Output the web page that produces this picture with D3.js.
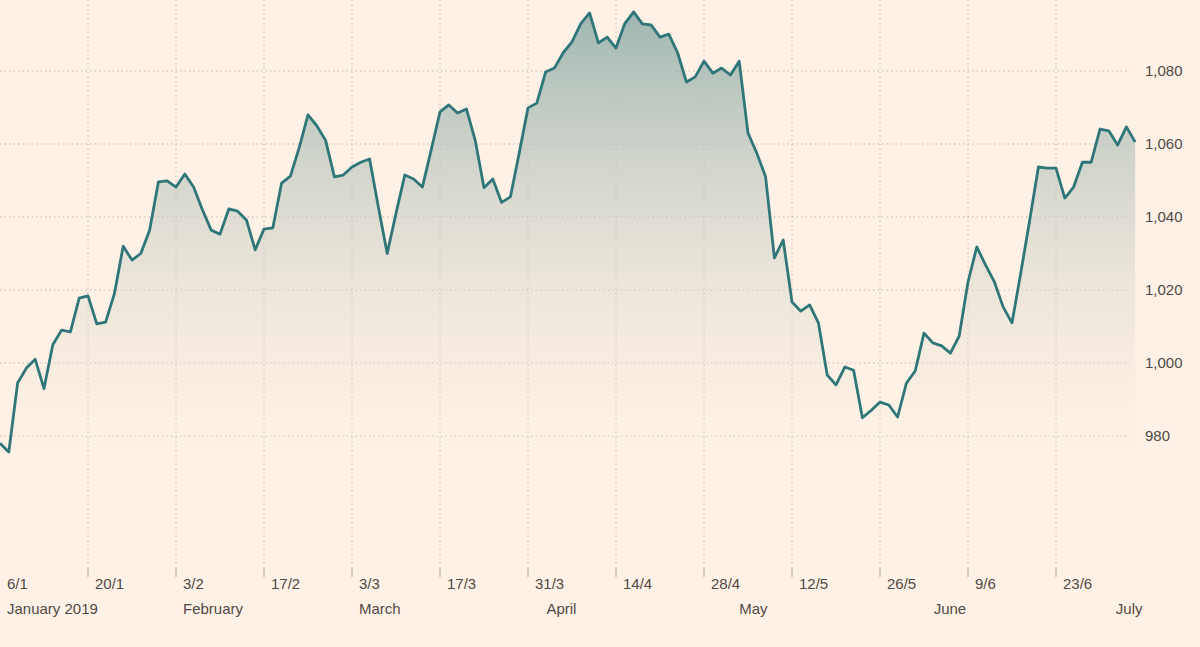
<!DOCTYPE html>
<html><head><meta charset="utf-8">
<script src="https://cdn.jsdelivr.net/npm/d3@7"></script>
<style>body{margin:0;background:#fff1e5;}svg{display:block;}</style>
</head><body>
<script>
const values=[978,975.6,994.5,998.6,1001,993,1005,1009,1008.5,1017.8,1018.4,1010.7,1011.2,1019,1032,1028.2,1030,1036.4,1049.6,1049.9,
1048.2,1051.8,1048.2,1042,1036.4,1035.3,1042.2,1041.6,1039.2,1031,1036.7,1037,1049.3,1051.2,1059,1068,1065,1061,1051,1051.5,
1053.7,1055,1055.9,1042.7,1030,1041,1051.5,1050.4,1048.2,1058.4,1068.8,1070.7,1068.5,1069.6,1061,1048,1050.4,1044,1045.5,1057.5,
1069.9,1071.2,1079.7,1080.8,1085,1088,1093,1095.9,1087.7,1089.3,1086.3,1093,1096.2,1092.9,1092.6,1089.3,1090.1,1085,1077,1078.4,
1082.7,1079.4,1080.8,1078.9,1082.7,1063,1057.5,1051,1028.8,1033.7,1016.7,1014.2,1015.9,1011,996.7,994,998.9,998,985,987,
989.3,988.5,985.2,994.5,997.8,1008.2,1005.5,1004.7,1002.7,1007.4,1022.2,1031.8,1026.8,1022.2,1015.3,1011,1024.7,1039,1053.7,1053.4,
1053.4,1045.2,1048.2,1055,1055,1064.1,1063.6,1059.7,1064.7,1060.5];
const tickIdx=[0,10,20,30,40,50,60,70,80,90,100,110,120];
const tickLabels=["6/1","20/1","3/2","17/2","3/3","17/3","31/3","14/4","28/4","12/5","26/5","9/6","23/6"];
const monthIdx=[0,20,40,61.3,83.2,105.3,126];
const monthLabels=["January 2019","February","March","April","May","June","July"];
const yTicks=[980,1000,1020,1040,1060,1080];

const W=1200,H=647;
const svg=d3.select("body").append("svg").attr("width",W).attr("height",H);
const x=d3.scaleLinear().domain([0,1]).range([0,8.8]);
const y=d3.scaleLinear().domain([980,1080]).range([436,71]);
const grid="#c2b9b0", txt="#4f4a46";
const font="Liberation Sans, Arial, sans-serif";

const defs=svg.append("defs");
const g=defs.append("linearGradient").attr("id","gr").attr("gradientUnits","userSpaceOnUse")
 .attr("x1",0).attr("y1",0).attr("x2",0).attr("y2",455);
g.append("stop").attr("offset",0).attr("stop-color","#8aa9a5").attr("stop-opacity",0.85);
g.append("stop").attr("offset",1).attr("stop-color","#fff1e5").attr("stop-opacity",0.2);

svg.append("g").selectAll("line").data(yTicks).join("line")
 .attr("x1",0).attr("x2",1130).attr("y1",d=>y(d)).attr("y2",d=>y(d))
 .attr("stroke",grid).attr("stroke-dasharray","1.5,3");
svg.append("g").selectAll("line").data(tickIdx.slice(1)).join("line")
 .attr("x1",d=>x(d)).attr("x2",d=>x(d)).attr("y1",0).attr("y2",565)
 .attr("stroke",grid).attr("stroke-dasharray","1.5,3");
svg.append("g").selectAll("line").data(tickIdx.slice(1)).join("line")
 .attr("x1",d=>x(d)).attr("x2",d=>x(d)).attr("y1",567).attr("y2",577)
 .attr("stroke","#b0a79e");

const area=d3.area().x((d,i)=>x(i)).y0(455).y1(d=>y(d));
svg.append("path").datum(values).attr("d",area).attr("fill","url(#gr)");
const line=d3.line().x((d,i)=>x(i)).y(d=>y(d));
svg.append("path").datum(values).attr("d",line).attr("fill","none")
 .attr("stroke","#2f7679").attr("stroke-width",2.8).attr("stroke-linejoin","round");

const fmt=d3.format(",");
svg.append("g").selectAll("text").data(yTicks).join("text")
 .attr("x",1145).attr("y",d=>y(d)+5).text(d=>fmt(d))
 .attr("font-family",font).attr("font-size",15).attr("fill",txt);
svg.append("g").selectAll("text").data(tickIdx).join("text")
 .attr("x",d=>x(d)+7).attr("y",589).text((d,i)=>tickLabels[i])
 .attr("font-family",font).attr("font-size",15).attr("fill",txt);
svg.append("g").selectAll("text").data(monthIdx).join("text")
 .attr("x",d=>x(d)+7).attr("y",614).text((d,i)=>monthLabels[i])
 .attr("font-family",font).attr("font-size",15).attr("fill",txt);
</script>
</body></html>
